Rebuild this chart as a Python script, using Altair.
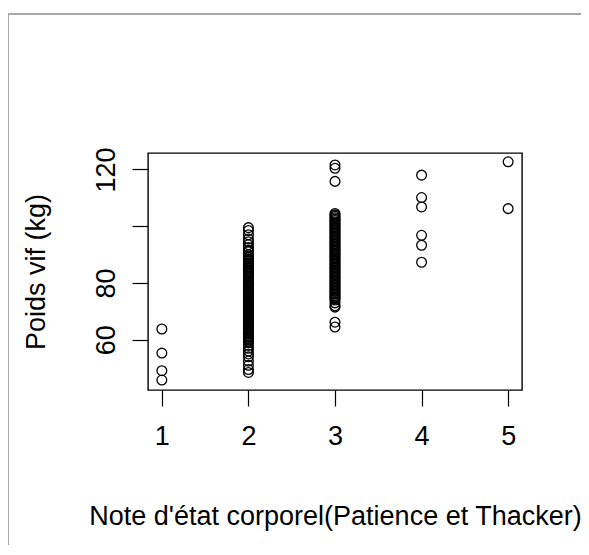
import altair as alt
import pandas as pd

# Poids vif (kg) par note d'état corporel
note1 = [63.8, 55.3, 49.1, 45.8]
note2 = [99.5, 98.5, 97, 95.5, 94.5, 93.5, 92.5, 91.5, 91, 90, 89.5, 89, 88.5, 88, 87.5, 87,
         86.5, 86, 85.5, 85, 84.5, 84, 83.5, 83, 82.5, 82, 81.5, 81, 80.5, 80, 80, 79.5,
         79, 79, 78.5, 78, 78, 77.5, 77, 77, 76.5, 76, 76, 75.5, 75, 75, 74.5, 74, 74,
         73.5, 73, 73, 72.5, 72, 72, 71.5, 71, 71, 70.5, 70, 70, 69.5, 69, 69, 68.5, 68,
         68, 67.5, 67, 67, 66.5, 66, 66, 65.5, 65, 65, 64.5, 64, 64, 63.5, 63, 63, 62.5,
         62, 62, 61.5, 61, 61, 60.5, 60, 59.5, 59, 58, 57, 56, 55, 54, 52.5, 51, 49.5, 48.5]
note3 = [121.6, 120.4, 115.8, 104.5, 104, 103.5, 103, 102.5, 102, 101.5, 101, 100.5, 100,
         99.5, 99, 98.5, 98, 97.5, 97, 96.5, 96, 95.5, 95, 94.5, 94, 93.5, 93, 92.5, 92,
         91.5, 91, 90.5, 90, 89.5, 89, 88.5, 88, 87.5, 87, 86.5, 86, 85.5, 85, 84.5, 84,
         83.5, 83, 82.5, 82, 81.5, 81, 80.5, 80, 79.5, 79, 78.5, 78, 77.5, 77, 76.5, 76,
         75.5, 75, 74.5, 74, 73, 72, 71.5, 66.2, 64.5]
note4 = [118, 110.1, 106.8, 96.8, 93.3, 87.3]
note5 = [122.7, 106.2]

x_ticks = [1, 2, 3, 4, 5]
y_ticks = [60, 80, 100, 120]

rows = []
for note, vals in zip(x_ticks, [note1, note2, note3, note4, note5]):
    for v in vals:
        rows.append({"note": note, "poids": v})
df = pd.DataFrame(rows)

FONT = "Liberation Sans"
FS = 27

points = alt.Chart(df).mark_point(
    shape="circle", filled=False, stroke="black", strokeWidth=1.3, size=95, opacity=1
).encode(
    x=alt.X("note:Q",
            scale=alt.Scale(domain=[0.84, 5.16], nice=False, zero=False),
            axis=alt.Axis(values=x_ticks, title="Note d'état corporel(Patience et Thacker)",
                          format="d", grid=False, domain=False, tickSize=16,
                          tickColor="black", tickWidth=1.2, labelFont=FONT,
                          labelFontSize=FS, labelColor="black", labelPadding=17,
                          titleFont=FONT, titleFontSize=FS, titleFontWeight="normal",
                          titleColor="black", titlePadding=54)),
    y=alt.Y("poids:Q",
            scale=alt.Scale(domain=[42.3, 125.8], nice=False, zero=False),
            axis=alt.Axis(values=y_ticks, title="Poids vif (kg)",
                          labelExpr="datum.value == 100 ? '' : datum.label",
                          grid=False, domain=False, tickSize=16, tickColor="black",
                          tickWidth=1.2, labelAngle=270, labelAlign="center",
                          labelBaseline="bottom", labelPadding=12,
                          labelFont=FONT, labelFontSize=FS, labelColor="black",
                          titleFont=FONT, titleFontSize=FS, titleFontWeight="normal",
                          titleColor="black", titlePadding=42)),
)

# grey frame of the surrounding figure panel
frame_left = alt.Chart(df).mark_rule(color="#a8a8a8", strokeWidth=2).encode(
    x=alt.value(-140), y=alt.value(-139), y2=alt.value(420))
frame_top = alt.Chart(df).mark_rule(color="#a8a8a8", strokeWidth=2).encode(
    y=alt.value(-139), x=alt.value(-140), x2=alt.value(480))

chart = alt.layer(frame_left, frame_top, points).properties(
    width=374, height=237,
    autosize=alt.AutoSizeParams(type="none"),
    padding={"left": 140, "top": 145, "right": 59, "bottom": 155},
    background="white",
).configure_view(stroke="black", strokeWidth=1.4)

chart.save("out.html", embed_options={"renderer": "svg", "actions": False})
